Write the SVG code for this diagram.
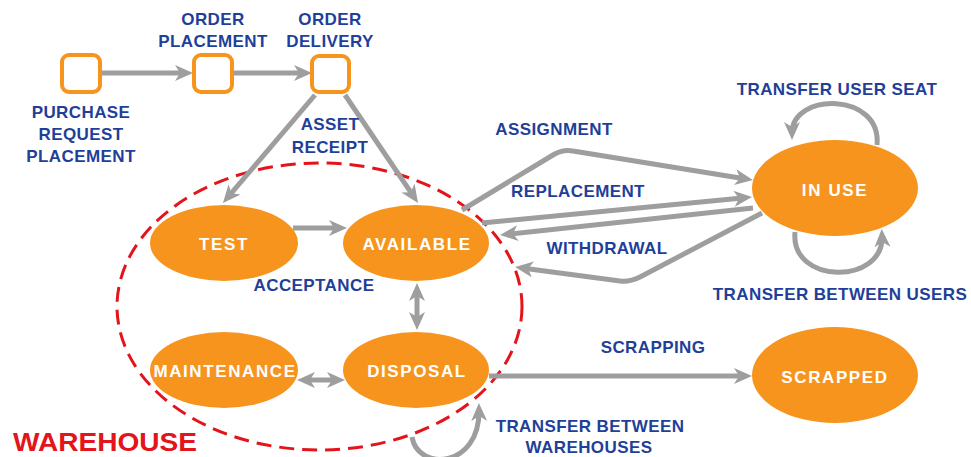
<svg xmlns="http://www.w3.org/2000/svg" width="971" height="457" viewBox="0 0 971 457">
<style>
.sq{fill:#fff;stroke:#f7941d;stroke-width:4}
.st{fill:#f7941d}
.wt{font-family:"Liberation Sans",Arial,sans-serif;font-weight:bold;font-size:17px;fill:#fff;text-anchor:middle;letter-spacing:1.6px}
.bt{font-family:"Liberation Sans",Arial,sans-serif;font-weight:bold;font-size:17px;fill:#1f3f99;text-anchor:middle;letter-spacing:0.4px}
.c{fill:none;stroke:#9e9e9e;stroke-width:5;marker-end:url(#ah)}
.d{marker-start:url(#ah)}
</style>
<defs>
<marker id="ah" markerUnits="userSpaceOnUse" markerWidth="18" markerHeight="16" viewBox="0 0 18 16" refX="11" refY="8" orient="auto-start-reverse">
<path d="M0,0 L18,8 L0,16 L5,8 z" fill="#9e9e9e"/>
</marker>
</defs>
<rect width="971" height="457" fill="#fff"/>
<g id="warehouse">
<ellipse cx="319.5" cy="306.5" rx="202.5" ry="143.5" fill="none" stroke="#e3141b" stroke-width="3" stroke-dasharray="15 8"/>
<text x="13" y="451" font-family="Liberation Sans,Arial,sans-serif" font-weight="bold" font-size="25" fill="#e3141b" textLength="184" lengthAdjust="spacingAndGlyphs">WAREHOUSE</text>
</g>
<g id="connectors">
<path class="c" d="M100 73 L186 73"/>
<path class="c" d="M232 73 L305 73"/>
<path class="c" d="M315 95 L227.5 197.7"/>
<path class="c" d="M345 95 L414.1 197.2"/>
<path class="c" d="M293 228 L340 228"/>
<path class="c d" d="M417 290 L417 323"/>
<path class="c d" d="M304 380 L338 380"/>
<path class="c" d="M489 376 L745 376"/>
<path class="c" d="M412 437 C418 472 480 468 479 410"/>
<path class="c" d="M462 210 L553 155 Q563 149 573 151 L746 179"/>
<path class="c" d="M482 223 L745 197.7"/>
<path class="c" d="M753 208 L507 234.3"/>
<path class="c" d="M762 213 L640 277 Q630 282 620 281 L522 268"/>
<path class="c" d="M877 145 C882 92 792 92 792 133"/>
<path class="c" d="M795 232 C790 285 884 285 882 236"/>
</g>
<g id="purchase">
<rect class="sq" x="62" y="55" width="38" height="37" rx="7"/>
<text class="bt" x="81" y="118">PURCHASE</text>
<text class="bt" x="81" y="140">REQUEST</text>
<text class="bt" x="81" y="162">PLACEMENT</text>
</g>
<g id="order-placement">
<rect class="sq" x="194" y="55" width="38" height="37" rx="7"/>
<text class="bt" x="213" y="25">ORDER</text>
<text class="bt" x="213" y="47">PLACEMENT</text>
</g>
<g id="order-delivery">
<rect class="sq" x="312" y="56" width="37" height="36" rx="7"/>
<text class="bt" x="330" y="25">ORDER</text>
<text class="bt" x="330" y="47">DELIVERY</text>
</g>
<g id="test">
<ellipse class="st" cx="224" cy="243" rx="74" ry="38"/>
<text class="wt" x="224" y="250">TEST</text>
</g>
<g id="available">
<ellipse class="st" cx="416" cy="243" rx="73" ry="38"/>
<text class="wt" x="417" y="250">AVAILABLE</text>
</g>
<g id="maintenance">
<ellipse class="st" cx="224" cy="370" rx="74" ry="38"/>
<text class="wt" x="225" y="377">MAINTENANCE</text>
</g>
<g id="disposal">
<ellipse class="st" cx="416" cy="370" rx="73" ry="38"/>
<text class="wt" x="417" y="377">DISPOSAL</text>
</g>
<g id="in-use">
<ellipse class="st" cx="835" cy="188" rx="83" ry="48"/>
<text class="wt" x="835" y="196">IN USE</text>
</g>
<g id="scrapped">
<ellipse class="st" cx="835" cy="375" rx="83" ry="48"/>
<text class="wt" x="835" y="383">SCRAPPED</text>
</g>
<g id="labels">
<text class="bt" x="330" y="130">ASSET</text>
<text class="bt" x="330" y="153">RECEIPT</text>
<text class="bt" x="554" y="135">ASSIGNMENT</text>
<text class="bt" x="578" y="197">REPLACEMENT</text>
<text class="bt" x="607" y="254">WITHDRAWAL</text>
<text class="bt" x="837" y="95">TRANSFER USER SEAT</text>
<text class="bt" x="840" y="300">TRANSFER BETWEEN USERS</text>
<text class="bt" x="314" y="291">ACCEPTANCE</text>
<text class="bt" x="653" y="353">SCRAPPING</text>
<text class="bt" x="590" y="432">TRANSFER BETWEEN</text>
<text class="bt" x="589" y="453">WAREHOUSES</text>
</g>
</svg>
